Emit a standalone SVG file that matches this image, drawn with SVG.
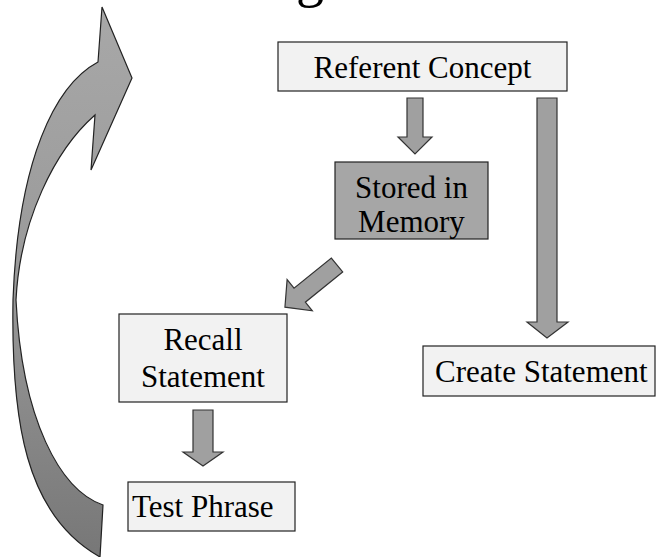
<svg xmlns="http://www.w3.org/2000/svg" width="658" height="557" viewBox="0 0 658 557">
<style>
.box{fill:#f2f2f2;stroke:#222;stroke-width:1.2}
.dark{fill:#a6a6a6;stroke:#222;stroke-width:1.2}
.arr{fill:#a0a0a0;stroke:#333;stroke-width:1.2;stroke-linejoin:miter}
.t{font-family:'Liberation Serif','Times New Roman',Times,serif;font-size:31px;fill:#000}
.title{font-size:56px}
</style>
<defs>
<linearGradient id="cg" x1="0" y1="0" x2="0" y2="1">
<stop offset="0" stop-color="#a8a8a8"/>
<stop offset="0.5" stop-color="#999"/>
<stop offset="1" stop-color="#777"/>
</linearGradient>
</defs>
<rect width="658" height="557" fill="#fff"/>
<text class="t title" x="296" y="-4">g</text>

<g id="connectors">
<path id="loop" d="M102,7 L98,62 C55,85 18,160 13,300 C11,420 25,515 100,557 L103,505 C60,490 22,420 16,300 C20,220 55,150 95,115 L91,170 L132,78 Z" fill="url(#cg)" stroke="#222" stroke-width="1.2"/>
<path class="arr" d="M407,98 H423 V137 H432 L415,154 L398,137 H407 Z"/>
<path class="arr" d="M537,98 H557 V322 H568 L547,338 L527,322 H537 Z"/>
<path class="arr" d="M193,410 H213 V452 H223 L203,466 L183,452 H193 Z"/>
<path class="arr" transform="translate(337,265) rotate(141)" d="M0,-9 H48 V-20 L67,0 L48,20 V9 H0 Z"/>
</g>

<g id="referent">
<rect class="box" x="278" y="42" width="289" height="49"/>
<text class="t" x="422.5" y="78" text-anchor="middle">Referent Concept</text>
</g>
<g id="stored">
<rect class="dark" x="335" y="162" width="153" height="77"/>
<text class="t" x="411.5" y="198" text-anchor="middle">Stored in</text>
<text class="t" x="411.5" y="232" text-anchor="middle">Memory</text>
</g>
<g id="recall">
<rect class="box" x="119" y="314" width="168" height="88"/>
<text class="t" x="203" y="350" text-anchor="middle">Recall</text>
<text class="t" x="203" y="387" text-anchor="middle">Statement</text>
</g>
<g id="create">
<rect class="box" x="423" y="346" width="232" height="50"/>
<text class="t" x="435" y="382">Create Statement</text>
</g>
<g id="test">
<rect class="box" x="128" y="482" width="167" height="49"/>
<text class="t" x="132" y="517">Test Phrase</text>
</g>
</svg>
